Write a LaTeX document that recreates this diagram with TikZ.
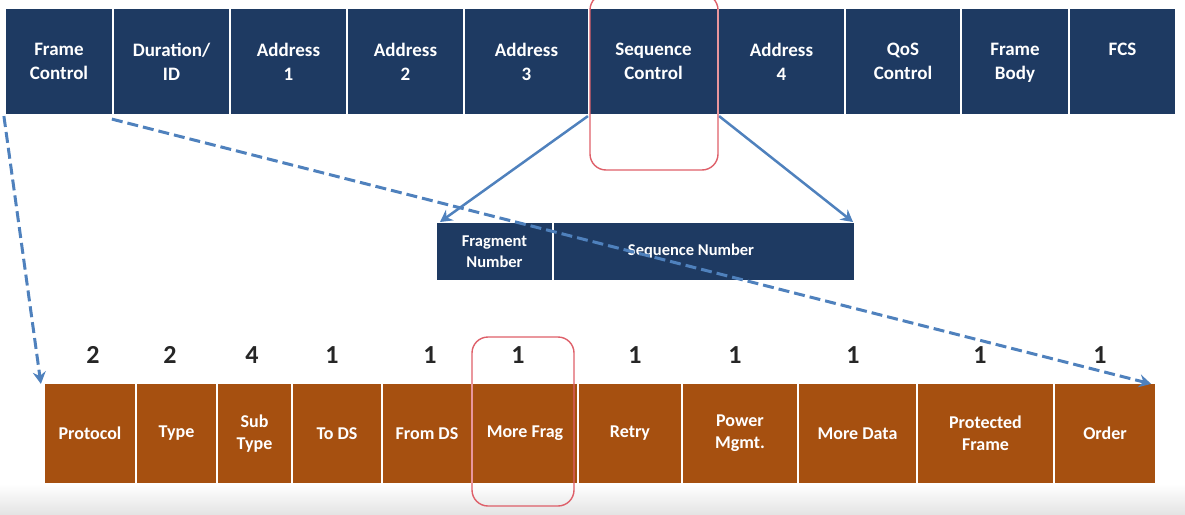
\documentclass[tikz,border=0pt]{standalone}
\usepackage{fontspec}
\setmainfont{Carlito}
\usetikzlibrary{arrows.meta}
\definecolor{hdrblue}{RGB}{30,58,98}
\definecolor{fcbrown}{RGB}{166,80,16}
\definecolor{arrblue}{RGB}{79,129,189}
\definecolor{hlred}{RGB}{222,95,105}
\definecolor{bggray}{RGB}{228,228,228}
\begin{document}
\begin{tikzpicture}[x=1pt,y=-1pt,
  topfield/.style={draw=white, line width=2.2pt, fill=hdrblue, text=white,
    font=\bfseries\fontsize{19}{24}\selectfont, align=center, inner sep=0pt,
    minimum height=107pt, text depth=0pt},
  midfield/.style={draw=white, line width=2pt, fill=hdrblue, text=white,
    font=\bfseries\fontsize{16.5}{21}\selectfont, align=center, inner sep=0pt,
    minimum height=59pt},
  botfield/.style={draw=white, line width=2.2pt, fill=fcbrown, text=white,
    font=\bfseries\fontsize{18}{22}\selectfont, align=center, inner sep=0pt,
    minimum height=101pt},
  bitnum/.style={font=\bfseries\fontsize{26}{28}\selectfont, text=black!85, inner sep=0pt},
  solidarrow/.style={draw=arrblue, line width=2.5pt, -{Stealth[length=12pt,width=13pt,inset=4pt]}},
  dasharrow/.style={draw=arrblue, line width=3pt, dash pattern=on 11pt off 5pt, -{Stealth[length=12pt,width=13pt,inset=4pt]}},
  hlbox/.style={draw=hlred, line width=1.4pt, rounded corners=16pt, inner sep=0pt}
]
\useasboundingbox (0,0) rectangle (1185,514);
\shade[top color=white, bottom color=bggray] (0,484) rectangle (1185,514);

% top frame fields
\node[topfield, minimum width=108pt] (fc)  at (59,61.5)    {Frame\\Control};
\node[topfield, minimum width=117pt] (dur) at (171.5,61.5) {Duration/\\ID};
\node[topfield, minimum width=117pt] (a1)  at (288.5,61.5) {Address\\1};
\node[topfield, minimum width=117pt] (a2)  at (405.5,61.5) {Address\\2};
\node[topfield, minimum width=125pt] (a3)  at (526.5,61.5) {Address\\3};
\node[topfield, minimum width=129pt] (sc)  at (653.5,61.5) {Sequence\\Control};
\node[topfield, minimum width=127pt] (a4)  at (781.5,61.5) {Address\\4};
\node[topfield, minimum width=116pt] (qos) at (903,61.5)   {QoS\\Control};
\node[topfield, minimum width=108pt] (fb)  at (1015,61.5)  {Frame\\Body};
\node[topfield, minimum width=107pt] (fcs) at (1122.5,61.5){FCS\\\mbox{}};

% sequence control breakdown
\node[midfield, minimum width=117pt] (frag) at (494.5,251.5) {Fragment\\Number};
\node[midfield, minimum width=302pt] (seq)  at (704,251.5)   {\hspace*{-26pt}Sequence Number};

% frame control fields
\node[botfield, minimum width=92pt]  (proto)  at (90,433.5)    {Protocol};
\node[botfield, minimum width=81pt]  (type)   at (176.5,433.5) {Type};
\node[botfield, minimum width=75pt]  (sub)    at (254.5,433.5) {Sub\\Type};
\node[botfield, minimum width=90pt]  (tods)   at (337,433.5)   {To DS};
\node[botfield, minimum width=90pt]  (fromds) at (427,433.5)   {From DS};
\node[botfield, minimum width=106pt] (mfrag)  at (525,433.5)   {More Frag};
\node[botfield, minimum width=104pt] (retry)  at (630,433.5)   {Retry};
\node[botfield, minimum width=116pt] (pwr)    at (740,433.5)   {Power\\Mgmt.};
\node[botfield, minimum width=119pt] (mdata)  at (857.5,433.5) {More Data};
\node[botfield, minimum width=137pt] (prot)   at (985.5,433.5) {Protected\\Frame};
\node[botfield, minimum width=102pt] (order)  at (1105,433.5)  {Order};

% bit counts
\node[bitnum] (n1)  at (93,355)   {2};
\node[bitnum] (n2)  at (170,355)  {2};
\node[bitnum] (n3)  at (252,355)  {4};
\node[bitnum] (n4)  at (332,355)  {1};
\node[bitnum] (n5)  at (430,355)  {1};
\node[bitnum] (n6)  at (518,355)  {1};
\node[bitnum] (n7)  at (635,355)  {1};
\node[bitnum] (n8)  at (735,355)  {1};
\node[bitnum] (n9)  at (853,355)  {1};
\node[bitnum] (n10) at (980,355)  {1};
\node[bitnum] (n11) at (1100,355) {1};

% connectors
\draw[solidarrow] (sc.south west) -- ([xshift=5pt,yshift=-1pt]frag.north west);
\draw[solidarrow] (sc.south east) -- ([xshift=-3pt,yshift=-1pt]seq.north east);
\draw[dasharrow] (fc.south west) -- ([xshift=-2pt,yshift=-2pt]proto.north west);
\draw[dasharrow] ([yshift=-3pt]dur.south west) -- ([xshift=-6pt,yshift=-2pt]order.north east);

% highlights
\node[hlbox, minimum width=128pt, minimum height=176pt] (hl1) at (654,82) {};
\node[hlbox, minimum width=102pt, minimum height=169pt] (hl2) at (523,421.5) {};
\end{tikzpicture}
\end{document}
